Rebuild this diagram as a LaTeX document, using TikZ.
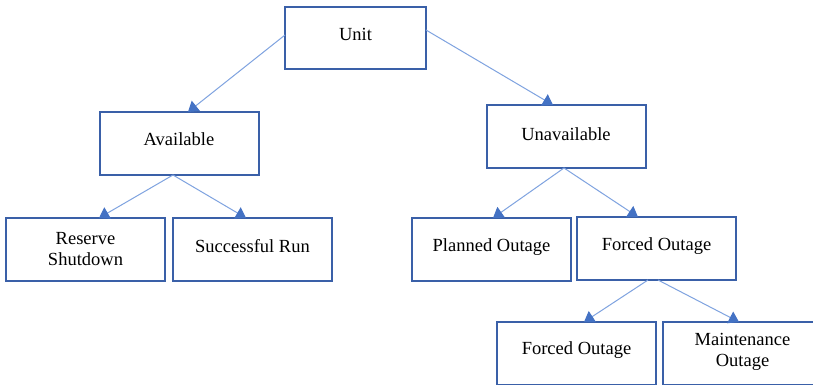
\documentclass[tikz,border=0pt]{standalone}
\usepackage{fontspec}
\setmainfont{Liberation Serif}
\usetikzlibrary{arrows.meta}
\definecolor{boxblue}{HTML}{3A60A8}
\definecolor{lineblue}{HTML}{7FA3E0}
\definecolor{tipblue}{HTML}{4472C4}
\begin{document}
\begin{tikzpicture}[x=1pt,y=-1pt,
  box/.style={draw=boxblue,line width=2pt,inner sep=0pt,outer sep=0pt,minimum width=#1,minimum height=63pt},
  box/.default=159pt,
  txt/.style={font=\fontsize{18.5}{21}\selectfont,align=center,inner sep=0pt,text=black},
  conn/.style={draw=lineblue,line width=1pt,-{Triangle[width=13pt,length=10pt,fill=tipblue,color=tipblue]}}]
\useasboundingbox (0,0) rectangle (813,385);
\fill[white] (0,0) rectangle (813,385);
% boxes
\node[box=141pt,minimum height=62pt] (unit) at (355.5,38) {};
\node[box] (avail) at (179,143.5) {};
\node[box] (unavail) at (566,136.5) {};
\node[box] (reserve) at (85.5,249.5) {};
\node[box] (success) at (252.5,249.5) {};
\node[box] (planned) at (491.5,249.5) {};
\node[box] (forced1) at (656.5,248.5) {};
\node[box] (forced2) at (576.5,353.5) {};
\node[box] (maint) at (742.5,353.5) {};
% texts
\node[txt] (tunit) at (355.5,34) {Unit};
\node[txt] (tavail) at (179,139) {Available};
\node[txt] (tunavail) at (566,134) {Unavailable};
\node[txt] (treserve) at (85.5,249.5) {Reserve\\Shutdown};
\node[txt] (tsuccess) at (252.5,246) {Successful Run};
\node[txt] (tplanned) at (491.5,247) {Planned Outage};
\node[txt] (tforced1) at (656.5,246) {Forced Outage};
\node[txt] (tforced2) at (576.5,350) {Forced Outage};
\node[txt] (tmaint) at (742.5,352) {Maintenance\\Outage};
% connectors
\draw[conn] ([yshift=3pt]unit.west) -- ([xshift=9pt]avail.north);
\draw[conn] ([yshift=8pt]unit.east) -- ([xshift=-13pt]unavail.north);
\draw[conn] ([xshift=-6pt]avail.south) -- ([xshift=13.5pt]reserve.north);
\draw[conn] ([xshift=-6pt]avail.south) -- ([xshift=-6.5pt]success.north);
\draw[conn] ([xshift=-2pt]unavail.south) -- ([xshift=1.5pt]planned.north);
\draw[conn] ([xshift=-2pt]unavail.south) -- ([xshift=-18.5pt]forced1.north);
\draw[conn] ([xshift=-8.5pt]forced1.south) -- ([xshift=7.5pt]forced2.north);
\draw[conn] ([xshift=1.5pt]forced1.south) -- ([xshift=-3.5pt]maint.north);
\end{tikzpicture}
\end{document}
